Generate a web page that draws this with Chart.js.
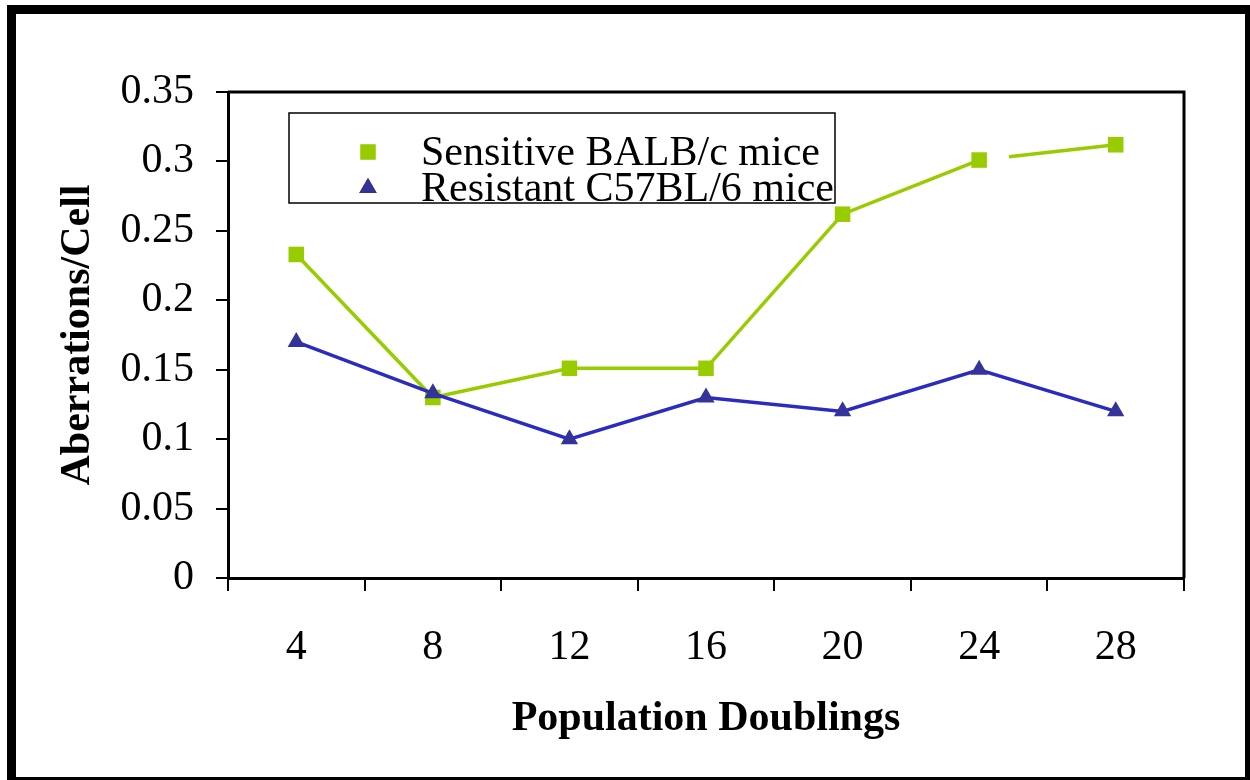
<!DOCTYPE html>
<html>
<head>
<meta charset="utf-8">
<title>Aberrations per cell vs population doublings</title>
<script src="https://cdn.jsdelivr.net/npm/chart.js@4.4.1/dist/chart.umd.min.js"></script>
<style>
  html, body { margin: 0; padding: 0; background: #fff; }
  #frame {
    position: absolute; left: 7px; top: 5px;
    width: 1243px; height: 775px; box-sizing: border-box;
    border-style: solid; border-color: #000;
    border-width: 9px 5px 3px 9px;
  }
  #wrap { position: absolute; left: 0; top: 0; width: 1250px; height: 780px; }
</style>
</head>
<body>
<div id="frame"></div>
<div id="wrap"><canvas id="chart" width="1250" height="780"></canvas></div>
<script>
// data
const doublings = ['4', '8', '12', '16', '20', '24', '28'];
const sensitiveBalb = [0.233, 0.13, 0.151, 0.151, 0.262, 0.301, 0.312];
const resistantC57 = [0.17, 0.133, 0.1, 0.13, 0.12, 0.15, 0.12];
const yTicks = [0, 0.05, 0.1, 0.15, 0.2, 0.25, 0.3, 0.35];

const serif = '"Liberation Serif", "Times New Roman", Times, serif';

// frame around the plot area (top and right sides)
const plotFrame = {
    id: 'plotFrame',
    beforeDatasetsDraw(chart) {
        const { ctx, chartArea: a } = chart;
        ctx.save();
        ctx.strokeStyle = '#000';
        ctx.lineWidth = 3;
        ctx.beginPath();
        ctx.moveTo(a.left, a.top);
        ctx.lineTo(a.right, a.top);
        ctx.lineTo(a.right, a.bottom);
        ctx.stroke();
        ctx.restore();
    }
};

// boxed legend sitting inside the plot
const boxLegend = {
    id: 'boxLegend',
    afterDatasetsDraw(chart) {
        const ctx = chart.ctx;
        ctx.save();
        ctx.fillStyle = '#fff';
        ctx.fillRect(289, 113, 546, 90);
        ctx.strokeStyle = '#000';
        ctx.lineWidth = 1.5;
        ctx.strokeRect(289, 113, 546, 90);
        ctx.font = '42px ' + serif;
        ctx.textBaseline = 'middle';
        ctx.textAlign = 'left';
        const rows = [152, 188];
        chart.data.datasets.forEach(function(ds, i) {
            const y = rows[i];
            Chart.helpers.drawPoint(ctx, {
                pointStyle: ds.pointStyle,
                radius: ds.pointRadius,
                borderWidth: 0
            }, 368, y);
            ctx.fillStyle = ds.pointBackgroundColor;
            ctx.fill();
            ctx.fillStyle = '#000';
            ctx.fillText(ds.label, 421, y + 2);
        });
        ctx.restore();
    }
};

const ctx = document.getElementById('chart').getContext('2d');
new Chart(ctx, {
    type: 'line',
    data: {
        labels: doublings,
        datasets: [
            {
                label: 'Sensitive BALB/c mice',
                data: sensitiveBalb,
                borderColor: '#99cc00',
                backgroundColor: '#99cc00',
                pointBackgroundColor: '#99cc00',
                pointBorderWidth: 0,
                borderWidth: 3.5,
                pointStyle: 'rect',
                pointRadius: 11,
                tension: 0,
                order: 2,
                segment: {
                    // the original line is broken just after the 24 point
                    borderDash: c => c.p0DataIndex === 5 ? [0, 30, 2000, 0] : undefined
                }
            },
            {
                label: 'Resistant C57BL/6 mice',
                data: resistantC57,
                borderColor: '#2b2bc0',
                backgroundColor: '#333399',
                pointBackgroundColor: '#333399',
                pointBorderWidth: 0,
                borderWidth: 3.5,
                pointStyle: 'triangle',
                pointRadius: 10,
                tension: 0,
                order: 1
            }
        ]
    },
    options: {
        responsive: false,
        animation: false,
        events: [],
        layout: { padding: { left: 0, top: 92, right: 66, bottom: 0 } },
        plugins: {
            legend: { display: false },
            tooltip: { enabled: false }
        },
        scales: {
            x: {
                type: 'category',
                offset: true,
                afterFit: s => { s.height = 202; },
                grid: {
                    offset: true,
                    drawOnChartArea: false,
                    drawTicks: true,
                    tickLength: 13,
                    color: '#000',
                    lineWidth: 2
                },
                border: { display: true, color: '#000', width: 3 },
                ticks: {
                    color: '#000',
                    font: { family: serif, size: 42 },
                    padding: 32,
                    maxRotation: 0
                },
                title: {
                    display: true,
                    text: 'Population Doublings',
                    color: '#000',
                    font: { family: serif, size: 42, weight: 'bold' },
                    padding: { top: 0, bottom: 36 }
                }
            },
            y: {
                min: 0,
                max: 0.35,
                afterFit: s => { s.width = 228; },
                afterBuildTicks: s => { s.ticks = yTicks.map(v => ({ value: v })); },
                grid: {
                    drawOnChartArea: false,
                    drawTicks: true,
                    tickLength: 12,
                    color: '#000',
                    lineWidth: 2
                },
                border: { display: true, color: '#000', width: 3 },
                ticks: {
                    color: '#000',
                    font: { family: serif, size: 42 },
                    padding: 22,
                    callback: v => String(Math.round(v * 100) / 100)
                },
                title: {
                    display: true,
                    text: 'Aberrations/Cell',
                    color: '#000',
                    font: { family: serif, size: 42, weight: 'bold' },
                    padding: { top: 53, bottom: 0 }
                }
            }
        }
    },
    plugins: [plotFrame, boxLegend]
});
</script>
</body>
</html>
